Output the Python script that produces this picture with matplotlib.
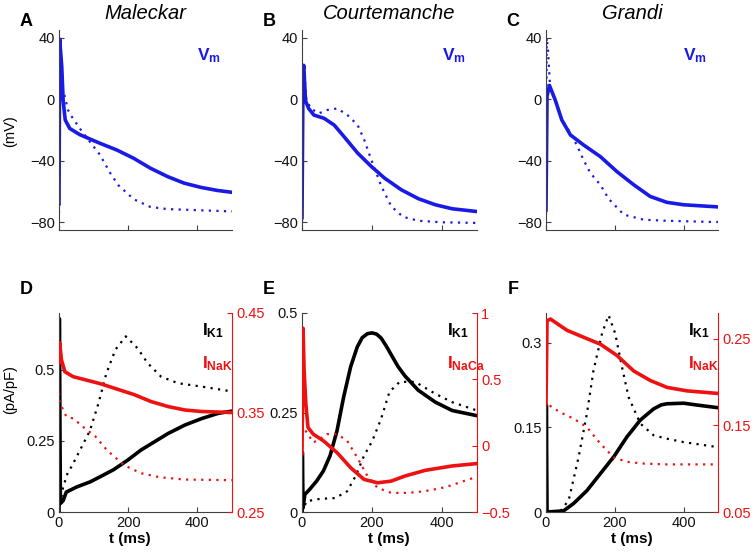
import numpy as np
import matplotlib.pyplot as plt

plt.rcParams['font.family'] = ['Liberation Sans', 'DejaVu Sans']
plt.rcParams['mathtext.fontset'] = 'custom'
plt.rcParams['mathtext.bf'] = 'Liberation Sans:bold'
plt.rcParams['mathtext.rm'] = 'Liberation Sans'

BLUE = '#1a1ae6'
RED = '#ee1111'
AXC = '#404040'

# ---- top row: membrane potential (mV), solid = control, dotted = other
a_t_solid = [0, 2, 8, 12, 18, 31, 60, 118, 167, 216, 264, 313, 361, 410, 458, 500]
a_v_solid = [-68, 39, 21, -1, -13.5, -19, -23, -28.6, -33, -38.4, -44.8, -50.2, -54.5, -57.3, -59.3, -60.5]
a_t_dot = [0, 2, 10, 26, 36, 60, 89, 118, 148, 172, 216, 264, 313, 410, 500]
a_v_dot = [-74, 38, 8, -7, -11, -19, -27.6, -36, -48, -56, -65, -70, -71.4, -72.2, -72.9]

b_t_solid = [0, 3, 5, 10, 19, 34, 63, 92, 120, 159, 198, 236, 284, 333, 381, 429, 500]
b_v_solid = [-77, 18, 22, -1, -6, -10.3, -12.4, -16.8, -24.3, -35, -43.7, -51.3, -58.9, -64.7, -68.6, -71.2, -73]
b_t_dot = [0, 3, 5, 12, 25, 48, 72, 101, 130, 159, 178, 198, 227, 255, 289, 333, 400, 500]
b_v_dot = [-80, 18, 22, 0, -6, -9.2, -7, -6, -10.3, -16.8, -26.5, -39.4, -56.7, -69.6, -76.5, -79, -80, -80.4]

c_t_solid = [0, 3, 10, 27, 46, 71, 109, 158, 206, 255, 303, 351, 400, 500]
c_v_solid = [-72, 2, 9, -0.6, -13.5, -23.2, -29.7, -37.3, -47, -55.6, -63.2, -67, -68.6, -70]
c_t_dot = [0, 2, 5, 12, 27, 46, 71, 90, 109, 129, 158, 182, 226, 284, 351, 487, 500]
c_v_dot = [-75, 40, 34, 8, -1, -13, -22, -30, -39.4, -48, -55.6, -64.7, -75, -78.3, -79, -79.8, -79.8]

# ---- bottom row: currents (pA/pF)
d_t_k1 = [0, 1, 4, 12, 21, 51, 90, 119, 158, 198, 237, 276, 315, 364, 413, 460, 500]
d_k1 = [0, 0.68, 0.03, 0.04, 0.07, 0.088, 0.106, 0.124, 0.149, 0.182, 0.218, 0.247, 0.276, 0.306, 0.329, 0.347, 0.355]
d_t_k1_dot = [0, 8, 12, 26, 36, 61, 90, 114, 137, 163, 193, 227, 256, 295, 344, 413, 500]
d_k1_dot = [0, 0.06, 0.088, 0.141, 0.159, 0.218, 0.288, 0.382, 0.488, 0.571, 0.618, 0.576, 0.524, 0.476, 0.453, 0.441, 0.424]
d_t_nak = [0, 2, 7, 17, 41, 119, 217, 266, 315, 364, 413, 500]
d_nak = [0.40, 0.42, 0.403, 0.391, 0.386, 0.379, 0.368, 0.361, 0.356, 0.3525, 0.351, 0.35]
d_t_nak_dot = [0, 2, 21, 41, 75, 105, 139, 188, 237, 290, 364, 500]
d_nak_dot = [0.37, 0.36, 0.346, 0.344, 0.334, 0.326, 0.312, 0.297, 0.289, 0.285, 0.2826, 0.282]

e_t_k1 = [0, 1, 3, 8, 22, 42, 61, 80, 100, 119, 139, 158, 172, 187, 200, 213, 226, 240, 255, 274,
          294, 332, 381, 429, 500]
e_k1 = [0, 0.15, 0.01, 0.044, 0.057, 0.078, 0.103, 0.141, 0.204, 0.289, 0.365, 0.415, 0.438, 0.448,
        0.45, 0.447, 0.437, 0.418, 0.395, 0.366, 0.342, 0.306, 0.276, 0.255, 0.242]
e_t_k1_dot = [0, 13, 51, 95, 129, 153, 177, 201, 226, 250, 279, 323, 381, 429, 500]
e_k1_dot = [0, 0.027, 0.033, 0.035, 0.052, 0.09, 0.141, 0.179, 0.234, 0.302, 0.327, 0.327, 0.297, 0.276, 0.255]
e_t_naca = [0, 3, 6, 11, 17, 32, 61, 100, 139, 177, 216, 255, 294, 352, 429, 500]
e_naca = [-0.06, 0.885, 0.568, 0.315, 0.138, 0.087, 0.037, -0.052, -0.166, -0.254, -0.28, -0.267,
          -0.229, -0.186, -0.153, -0.135]
e_t_naca_dot = [0, 3, 17, 32, 51, 71, 100, 129, 158, 187, 216, 255, 303, 352, 410, 500]
e_naca_dot = [-0.06, 0.138, 0.087, 0.024, 0.049, 0.087, 0.087, 0.037, -0.09, -0.229, -0.318, -0.356,
              -0.356, -0.343, -0.313, -0.234]

f_t_k1 = [0, 1, 3, 51, 80, 119, 158, 197, 235, 274, 313, 335, 352, 400, 448, 500]
f_k1 = [0, 0.19, 0, 0.002, 0.015, 0.038, 0.068, 0.098, 0.133, 0.163, 0.183, 0.19, 0.192, 0.193, 0.189, 0.185]
f_t_k1_dot = [0, 40, 66, 95, 119, 138, 163, 182, 201, 221, 240, 274, 313, 352, 400, 500]
f_k1_dot = [0, 0, 0.021, 0.098, 0.175, 0.251, 0.317, 0.349, 0.317, 0.257, 0.204, 0.157, 0.136, 0.13, 0.124, 0.115]
f_t_nak = [0, 3, 13, 61, 109, 158, 206, 255, 303, 352, 410, 500]
f_nak = [0.175, 0.271, 0.273, 0.26, 0.252, 0.244, 0.231, 0.213, 0.202, 0.194, 0.19, 0.187]
f_t_nak_dot = [0, 3, 42, 80, 119, 158, 197, 235, 284, 352, 500]
f_nak_dot = [0.18, 0.175, 0.165, 0.158, 0.148, 0.129, 0.113, 0.108, 0.106, 0.105, 0.105]

titles = ['Maleckar', 'Courtemanche', 'Grandi']
top_letters = ['A', 'B', 'C']
bot_letters = ['D', 'E', 'F']
v_ticks = [-80, -40, 0, 40]
v_ticklabels = ['\u221280', '\u221240', '0', '40']
left_ticks = [[0, 0.25, 0.5], [0, 0.25, 0.5], [0, 0.15, 0.3]]
left_ticklabels = [['0', '0.25', '0.5'], ['0', '0.25', '0.5'], ['0', '0.15', '0.3']]
left_lims = [(0, 0.7), (0, 0.5), (0, 0.353)]
right_ticks = [[0.25, 0.35, 0.45], [-0.5, 0, 0.5, 1], [0.05, 0.15, 0.25]]
right_ticklabels = [['0.25', '0.35', '0.45'], ['\u22120.5', '0', '0.5', '1'], ['0.05', '0.15', '0.25']]
right_lims = [(0.25, 0.45), (-0.5, 1.0), (0.05, 0.28)]
red_names = [r'$\mathbf{I_{NaK}}$', r'$\mathbf{I_{NaCa}}$', r'$\mathbf{I_{NaK}}$']

W, H = 755, 556
fig = plt.figure(figsize=(W / 100, H / 100), dpi=100)

DOT = (0, (1.0, 2.4))
lefts = [59, 302, 546]
rights = [232, 477, 718]


def px_axes(x0, x1, ytop, ybot):
    return fig.add_axes([x0 / W, 1 - ybot / H, (x1 - x0) / W, (ybot - ytop) / H])


def style(ax, color=AXC):
    for s in ['top', 'right']:
        ax.spines[s].set_visible(False)
    for s in ['left', 'bottom']:
        ax.spines[s].set_color(color)
        ax.spines[s].set_linewidth(0.8)
    ax.tick_params(direction='in', length=3.5, width=0.8, labelsize=10.5, colors=AXC,
                   labelcolor='#111111', pad=3)


top_data = [(a_t_solid, a_v_solid, a_t_dot, a_v_dot),
            (b_t_solid, b_v_solid, b_t_dot, b_v_dot),
            (c_t_solid, c_v_solid, c_t_dot, c_v_dot)]

for i in range(3):
    ax = px_axes(lefts[i], rights[i], 30, 230)
    style(ax)
    ts, vs, td, vd = top_data[i]
    ax.plot(td, vd, color=BLUE, lw=1.6, linestyle=DOT)
    ax.plot(ts, vs, color=BLUE, lw=2.6, solid_joinstyle='round')
    ax.set_xlim(0, 500)
    ax.set_ylim(-85, 45)
    ax.set_xticks([0, 200, 400])
    ax.set_xticklabels([])
    ax.set_yticks(v_ticks)
    ax.set_yticklabels(v_ticklabels)
    ax.set_title(titles[i], fontsize=14.5, style='italic', pad=8)
    fig.text((lefts[i] - 33) / W, 1 - 22 / H, top_letters[i], fontsize=13, fontweight='bold',
             ha='center', va='center')
    fig.text((rights[i] - 35) / W, 1 - 60 / H, r'$\mathbf{V_m}$', fontsize=12.5, color=BLUE,
             va='baseline')

bot_data = [(d_t_k1, d_k1, d_t_k1_dot, d_k1_dot, d_t_nak, d_nak, d_t_nak_dot, d_nak_dot),
            (e_t_k1, e_k1, e_t_k1_dot, e_k1_dot, e_t_naca, e_naca, e_t_naca_dot, e_naca_dot),
            (f_t_k1, f_k1, f_t_k1_dot, f_k1_dot, f_t_nak, f_nak, f_t_nak_dot, f_nak_dot)]
xlabel_x = [130, 389, 632]

for i in range(3):
    ax = px_axes(lefts[i], rights[i], 313, 512)
    style(ax)
    tk, k1, tkd, k1d, tr, rr, trd, rrd = bot_data[i]
    ax.plot(tkd, k1d, color='black', lw=1.6, linestyle=DOT)
    ax.plot(tk, k1, color='black', lw=2.6, solid_joinstyle='round')
    ax.set_xlim(0, 500)
    ax.set_ylim(*left_lims[i])
    ax.set_xticks([0, 200, 400])
    ax.set_yticks(left_ticks[i])
    ax.set_yticklabels(left_ticklabels[i])

    ax2 = ax.twinx()
    for s in ['top', 'left', 'bottom']:
        ax2.spines[s].set_visible(False)
    ax2.spines['right'].set_color(RED)
    ax2.spines['right'].set_linewidth(0.8)
    ax2.tick_params(direction='in', length=3.5, width=0.8, labelsize=10.5, colors=RED, pad=3)
    ax2.plot(trd, rrd, color=RED, lw=1.6, linestyle=DOT)
    ax2.plot(tr, rr, color=RED, lw=2.6, solid_joinstyle='round')
    ax2.set_ylim(*right_lims[i])
    ax2.set_yticks(right_ticks[i])
    ax2.set_yticklabels(right_ticklabels[i])

    fig.text((lefts[i] - 33) / W, 1 - 290 / H, bot_letters[i], fontsize=13, fontweight='bold',
             ha='center', va='center')
    fig.text(xlabel_x[i] / W, 1 - 539 / H, 't (ms)', fontsize=11, fontweight='bold',
             ha='center', va='center')
    fig.text((rights[i] - 30) / W, 1 - 335 / H, r'$\mathbf{I_{K1}}$', fontsize=12.5,
             color='black', va='baseline')
    fig.text((rights[i] - 30) / W, 1 - 368 / H, red_names[i], fontsize=12.5,
             color=RED, va='baseline')

fig.text(10 / W, 1 - 131 / H, '(mV)', fontsize=10.5, rotation=90, ha='center', va='center')
fig.text(10 / W, 1 - 390 / H, '(pA/pF)', fontsize=10.5, rotation=90, ha='center', va='center')

fig.savefig('out.png', dpi=100)
